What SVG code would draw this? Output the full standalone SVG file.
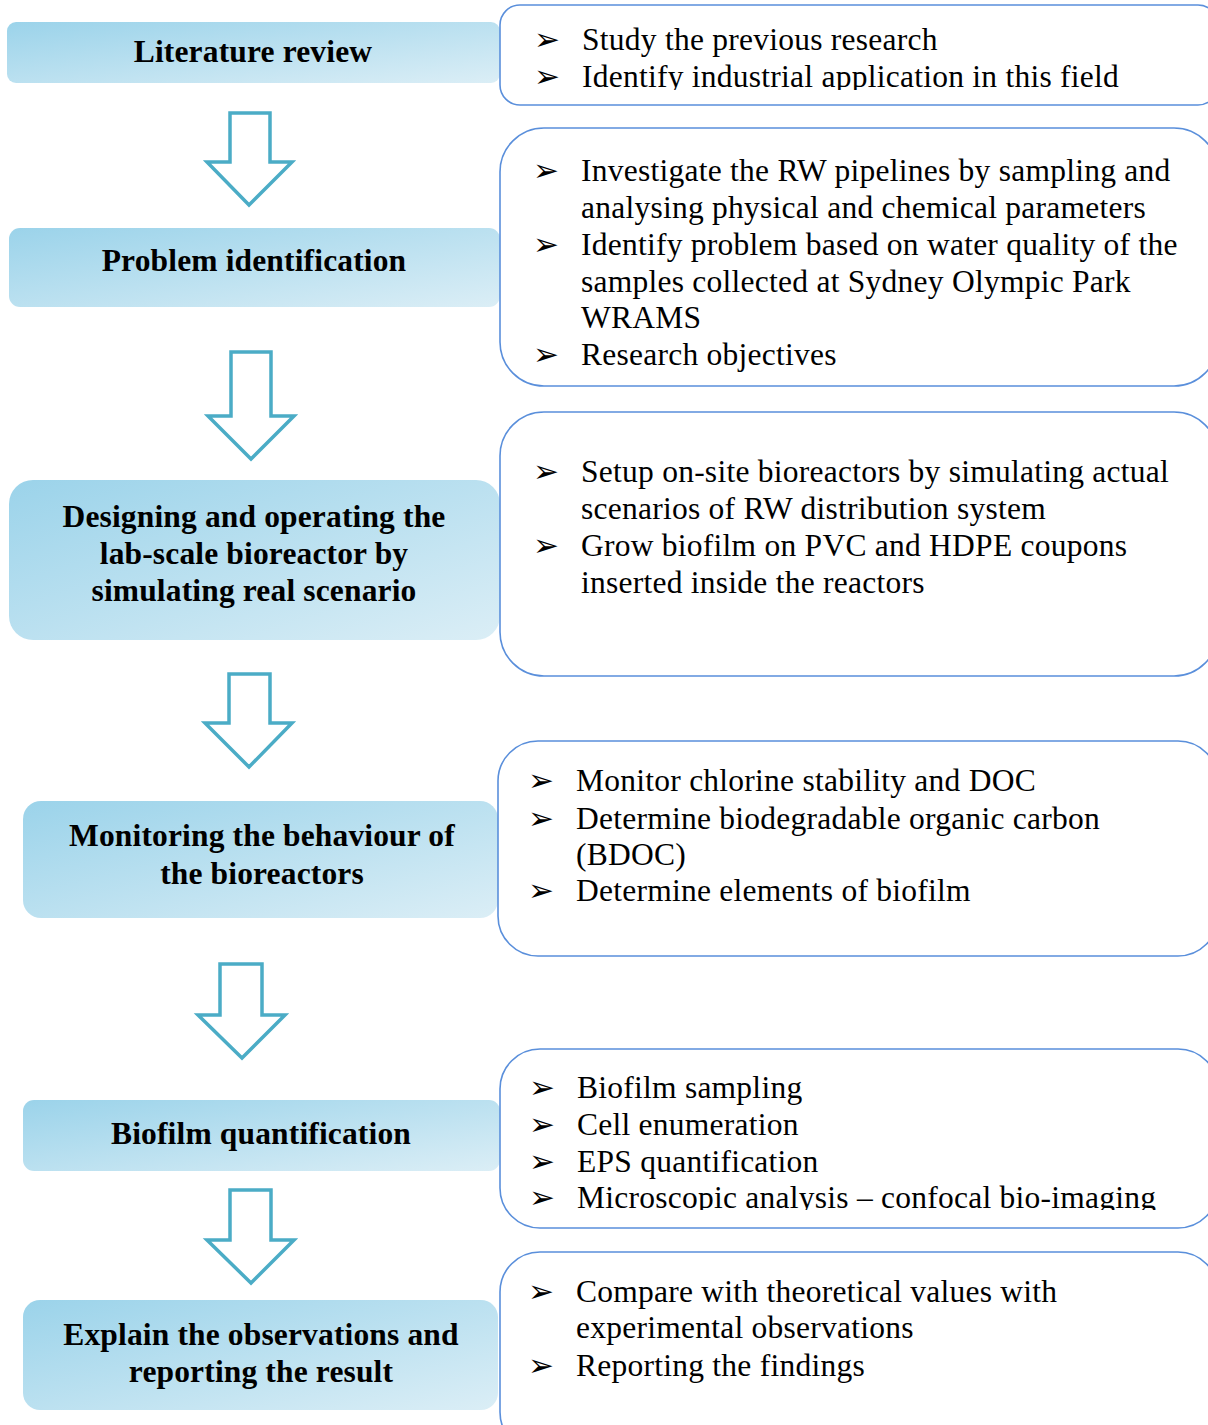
<svg xmlns="http://www.w3.org/2000/svg" width="1208" height="1425" viewBox="0 0 1208 1425">
<defs>
<linearGradient id="g" x1="0" y1="0" x2="1" y2="1">
<stop offset="0" stop-color="#9bd3ea"/>
<stop offset="1" stop-color="#dbeef6"/>
</linearGradient>
<clipPath id="c1"><rect x="500" y="5" width="720" height="85"/></clipPath>
<clipPath id="c5"><rect x="500" y="1049" width="720" height="161"/></clipPath>
</defs>
<style>
.lb{fill:url(#g);}
.lt{font-family:"Liberation Serif",serif;font-weight:bold;font-size:31.5px;letter-spacing:0.15px;fill:#000;text-anchor:middle;}
.rb{fill:#fff;stroke:#5a8fdb;stroke-width:1.6;}
.rt{font-family:"Liberation Serif",serif;font-size:31.5px;letter-spacing:0.25px;fill:#000;}
.bu{font-family:"DejaVu Sans",sans-serif;font-size:31px;fill:#000;}
.ar{fill:#fff;stroke:#4bacc6;stroke-width:3.5;stroke-linejoin:miter;}
</style>
<rect width="1208" height="1425" fill="#fff"/>

<g id="connectors">
<polygon class="ar" points="230,113 270,113 270,162 292,162 249,205 207,162 230,162"/>
<polygon class="ar" points="231,352 271,352 271,416 294,416 251,459 208,416 231,416"/>
<polygon class="ar" points="229,674 270,674 270,723 292,723 249,767 205,723 229,723"/>
<polygon class="ar" points="220,964 262,964 262,1015 285,1015 242,1058 198,1015 220,1015"/>
<polygon class="ar" points="230,1190 271,1190 271,1240 294,1240 251,1283 207,1240 230,1240"/>
</g>

<g id="n1">
<rect class="lb" x="7" y="22" width="493" height="61" rx="9"/>
<text class="lt" x="253" y="62">Literature review</text>
</g>
<g id="n2">
<rect class="lb" x="9" y="228" width="491" height="79" rx="11"/>
<text class="lt" x="254" y="271">Problem identification</text>
</g>
<g id="n3">
<rect class="lb" x="9" y="480" width="491" height="160" rx="24"/>
<text class="lt" x="254" y="527">Designing and operating the</text>
<text class="lt" x="254" y="564">lab-scale bioreactor by</text>
<text class="lt" x="254" y="601">simulating real scenario</text>
</g>
<g id="n4">
<rect class="lb" x="23" y="801" width="475" height="117" rx="18"/>
<text class="lt" x="262" y="846">Monitoring the behaviour of</text>
<text class="lt" x="262" y="884">the bioreactors</text>
</g>
<g id="n5">
<rect class="lb" x="23" y="1100" width="477" height="71" rx="11"/>
<text class="lt" x="261" y="1144">Biofilm quantification</text>
</g>
<g id="n6">
<rect class="lb" x="23" y="1300" width="475" height="110" rx="17"/>
<text class="lt" x="261" y="1345">Explain the observations and</text>
<text class="lt" x="261" y="1382">reporting the result</text>
</g>

<g id="d1">
<rect class="rb" x="500" y="5" width="718" height="100" rx="20"/>
<g clip-path="url(#c1)">
<text class="bu" x="534" y="50">➢</text>
<text class="rt" x="582" y="50">Study the previous research</text>
<text class="bu" x="534" y="87">➢</text>
<text class="rt" x="582" y="87">Identify industrial application in this field</text>
</g>
</g>
<g id="d2">
<rect class="rb" x="500" y="128" width="718" height="258" rx="44"/>
<text class="bu" x="533" y="181">➢</text>
<text class="rt" x="581" y="181">Investigate the RW pipelines by sampling and</text>
<text class="rt" x="581" y="218">analysing physical and chemical parameters</text>
<text class="bu" x="533" y="255">➢</text>
<text class="rt" x="581" y="255">Identify problem based on water quality of the</text>
<text class="rt" x="581" y="292">samples collected at Sydney Olympic Park</text>
<text class="rt" x="581" y="328">WRAMS</text>
<text class="bu" x="533" y="365">➢</text>
<text class="rt" x="581" y="365">Research objectives</text>
</g>
<g id="d3">
<rect class="rb" x="500" y="412" width="718" height="264" rx="44"/>
<text class="bu" x="533" y="482">➢</text>
<text class="rt" x="581" y="482">Setup on-site bioreactors by simulating actual</text>
<text class="rt" x="581" y="519">scenarios of RW distribution system</text>
<text class="bu" x="533" y="556">➢</text>
<text class="rt" x="581" y="556">Grow biofilm on PVC and HDPE coupons</text>
<text class="rt" x="581" y="593">inserted inside the reactors</text>
</g>
<g id="d4">
<rect class="rb" x="498" y="741" width="720" height="215" rx="40"/>
<text class="bu" x="528" y="791">➢</text>
<text class="rt" x="576" y="791">Monitor chlorine stability and DOC</text>
<text class="bu" x="528" y="829">➢</text>
<text class="rt" x="576" y="829">Determine biodegradable organic carbon</text>
<text class="rt" x="576" y="865">(BDOC)</text>
<text class="bu" x="528" y="901">➢</text>
<text class="rt" x="576" y="901">Determine elements of biofilm</text>
</g>
<g id="d5">
<rect class="rb" x="500" y="1049" width="718" height="179" rx="40"/>
<g clip-path="url(#c5)">
<text class="bu" x="529" y="1098">➢</text>
<text class="rt" x="577" y="1098">Biofilm sampling</text>
<text class="bu" x="529" y="1135">➢</text>
<text class="rt" x="577" y="1135">Cell enumeration</text>
<text class="bu" x="529" y="1172">➢</text>
<text class="rt" x="577" y="1172">EPS quantification</text>
<text class="bu" x="529" y="1208">➢</text>
<text class="rt" x="577" y="1208">Microscopic analysis – confocal bio-imaging</text>
</g>
</g>
<g id="d6">
<rect class="rb" x="500" y="1252" width="718" height="200" rx="40"/>
<text class="bu" x="528" y="1302">➢</text>
<text class="rt" x="576" y="1302">Compare with theoretical values with</text>
<text class="rt" x="576" y="1338">experimental observations</text>
<text class="bu" x="528" y="1376">➢</text>
<text class="rt" x="576" y="1376">Reporting the findings</text>
</g>
</svg>
